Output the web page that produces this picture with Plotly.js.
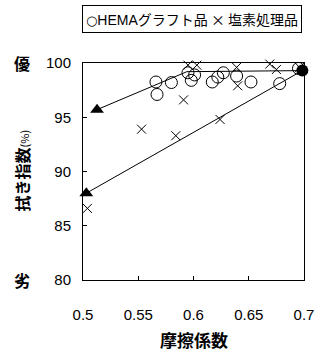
<!DOCTYPE html>
<html>
<head>
<meta charset="utf-8">
<script src="https://cdn.plot.ly/plotly-3.0.1.min.js"></script>
<style>html,body{margin:0;padding:0;background:#fff;}#chart{width:322px;height:353px;}</style>
</head>
<body>
<div id="chart"></div>
<script>
// HEMAグラフト品 (open circles)
var hemaX = [0.566, 0.567, 0.580, 0.595, 0.598, 0.601, 0.617, 0.622, 0.627, 0.639, 0.652, 0.678, 0.695];
var hemaY = [98.25, 97.1, 98.2, 99.1, 98.4, 98.9, 98.25, 98.7, 99.1, 98.8, 98.25, 98.1, 99.5];
// 塩素処理品 (crosses)
var chlorX = [0.504, 0.553, 0.584, 0.591, 0.595, 0.603, 0.624, 0.639, 0.640, 0.669, 0.675, 0.696];
var chlorY = [86.6, 93.9, 93.3, 96.6, 99.8, 99.8, 94.8, 99.6, 97.9, 99.9, 99.4, 99.6];
// untreated starting point and arrow paths
var startX = [0.6985];
var startY = [99.3];
var pathHemaX = [0.6985, 0.594, 0.5127];
var pathHemaY = [99.3, 99.2, 95.7];
var pathChlorX = [0.6985, 0.503];
var pathChlorY = [99.3, 88.0];
var endX = [0.5127, 0.503];
var endY = [95.7, 88.0];
var xTicks = [0.5, 0.55, 0.6, 0.65, 0.7];
var xTickText = ['0.5', '0.55', '0.6', '0.65', '0.7'];
var yTicks = [80, 85, 90, 95, 100];
var yTickText = ['80', '85', '90', '95', '100'];
var seriesNames = ['HEMAグラフト品', '塩素処理品'];

var fontLat = 'Liberation Sans, Arial, sans-serif';
var fontJp = 'Noto Sans CJK JP, sans-serif';

var traces = [
  {x: pathHemaX, y: pathHemaY, mode: 'lines', line: {color: '#000', width: 1}, showlegend: false, hoverinfo: 'skip'},
  {x: pathChlorX, y: pathChlorY, mode: 'lines', line: {color: '#000', width: 1}, showlegend: false, hoverinfo: 'skip'},
  {x: hemaX, y: hemaY, mode: 'markers', name: seriesNames[0], cliponaxis: false,
   marker: {symbol: 'circle-open', size: 12, color: '#000', line: {width: 1, color: '#000'}}},
  {x: chlorX, y: chlorY, mode: 'markers', name: seriesNames[1], cliponaxis: false,
   marker: {symbol: 'x-thin-open', size: 9, color: '#000', line: {width: 1, color: '#000'}}},
  {x: endX, y: endY, mode: 'markers', showlegend: false, cliponaxis: false,
   marker: {symbol: 'triangle-up', size: 12, color: '#000'}},
  {x: startX, y: startY, mode: 'markers', showlegend: false, cliponaxis: false,
   marker: {symbol: 'circle', size: 12, color: '#000'}}
];

var layout = {
  width: 322, height: 353,
  margin: {l: 83, r: 18, t: 63, b: 73},
  paper_bgcolor: '#fff', plot_bgcolor: '#fff',
  showlegend: false,
  font: {family: fontLat, color: '#000', size: 15},
  xaxis: {
    range: [0.5, 0.7], tickvals: xTicks, ticktext: xTickText,
    showgrid: false, zeroline: false, showline: true, mirror: true,
    linecolor: '#000', linewidth: 1, ticks: 'inside', ticklen: 4, tickcolor: '#000',
    ticklabelstandoff: 21, tickfont: {size: 15, family: fontLat, color: '#000'}
  },
  yaxis: {
    range: [80, 100], tickvals: yTicks, ticktext: yTickText,
    showgrid: false, zeroline: false, showline: true, mirror: true,
    linecolor: '#000', linewidth: 1, ticks: 'inside', ticklen: 4, tickcolor: '#000',
    ticklabelstandoff: 8, tickfont: {size: 15, family: fontLat, color: '#000'}
  },
  annotations: [
    {xref: 'paper', yref: 'paper', x: 0.495, y: 1.205, xanchor: 'center', yanchor: 'middle', showarrow: false,
     text: '<span style="font-family:DejaVu Sans;font-size:13px">○</span>' + seriesNames[0].replace('HEMA', '<span style="font-family:Liberation Sans">HEMA</span>') + ' × ' + seriesNames[1],
     font: {family: fontJp, size: 14, color: '#000'},
     bordercolor: '#000', borderwidth: 1, borderpad: 3, bgcolor: '#fff'},
    {xref: 'paper', yref: 'paper', x: -0.276, y: 0.505, xanchor: 'center', yanchor: 'middle', showarrow: false,
     textangle: -90, text: '<b>拭き指数</b><span style="font-size:11px">(%)</span>',
     font: {family: fontJp, size: 16, color: '#000'}},
    {xref: 'paper', yref: 'y', x: -0.276, y: 100, xanchor: 'center', yanchor: 'middle', showarrow: false,
     text: '<b>優</b>', font: {family: fontJp, size: 16, color: '#000'}},
    {xref: 'paper', yref: 'y', x: -0.276, y: 80, xanchor: 'center', yanchor: 'middle', showarrow: false,
     text: '<b>劣</b>', font: {family: fontJp, size: 16, color: '#000'}},
    {xref: 'paper', yref: 'paper', x: 0.5, y: -0.275, xanchor: 'center', yanchor: 'middle', showarrow: false,
     text: '<b>摩擦係数</b>', font: {family: fontJp, size: 17, color: '#000'}}
  ]
};

Plotly.newPlot('chart', traces, layout, {staticPlot: true, displayModeBar: false});
</script>
</body>
</html>
